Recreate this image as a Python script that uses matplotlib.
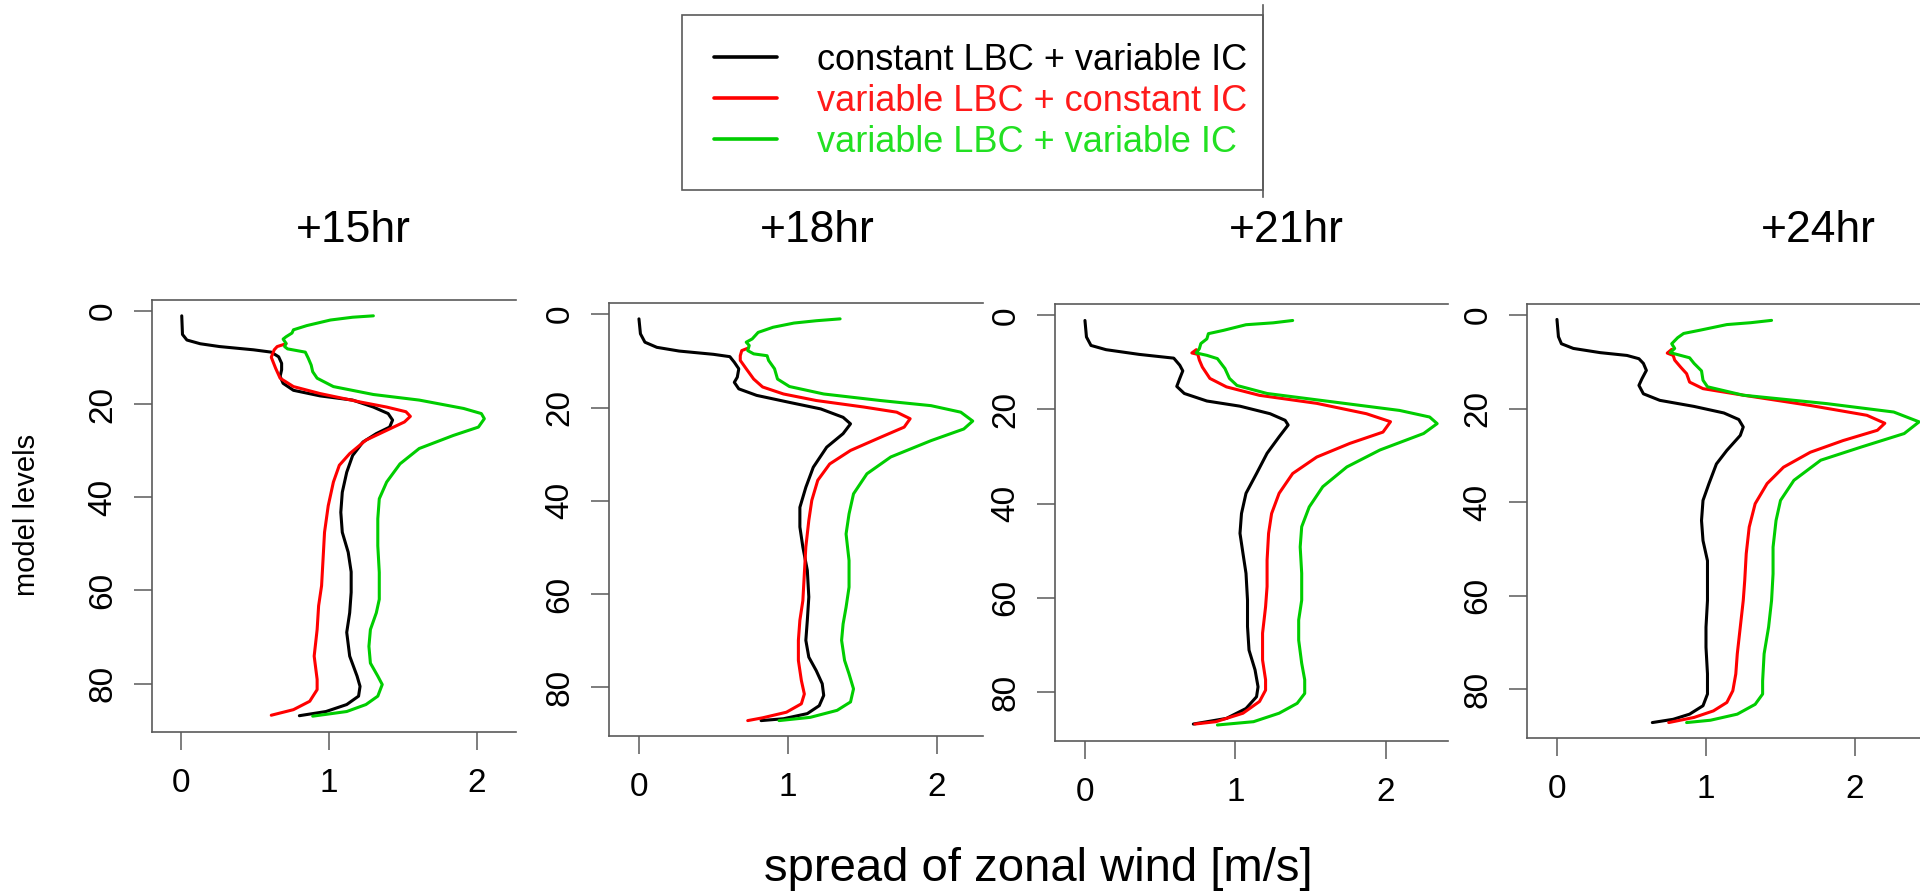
import matplotlib
matplotlib.use("Agg")
import matplotlib.pyplot as plt
from matplotlib.patches import Rectangle
from matplotlib.lines import Line2D

plt.rcParams['font.family'] = ['Liberation Sans', 'DejaVu Sans']

########### DATA ###########
TITLES = ["+15hr", "+18hr", "+21hr", "+24hr"]
LABELS = ["constant LBC + variable IC", "variable LBC + constant IC", "variable LBC + variable IC"]
COLORS = ["#000000", "#ff0000", "#00cd00"]
TEXT_COLORS = ["#000000", "#ff1a1a", "#22e022"]
X_TICKS = [0, 1, 2]
Y_TICKS = [0, 20, 40, 60, 80]

# +15hr
LEV_15_K = [1, 5, 6.2, 7, 7.6, 8.3, 8.8, 9.8, 11.2, 12.6, 14, 15.5, 17, 18.2, 19.1, 20.6, 22, 23.4, 24.9, 26.3, 28.1, 31, 34.6, 38.9, 43.2, 47.5, 51.8, 56, 60.4, 64.8, 69, 74.1, 78.4, 80.6, 82.7, 84.5, 86, 86.9]
X_15_K = [0.005, 0.01, 0.04, 0.13, 0.26, 0.49, 0.61, 0.66, 0.68, 0.68, 0.67, 0.69, 0.76, 0.94, 1.16, 1.30, 1.40, 1.43, 1.41, 1.32, 1.23, 1.16, 1.12, 1.09, 1.08, 1.09, 1.13, 1.15, 1.15, 1.14, 1.12, 1.14, 1.19, 1.21, 1.20, 1.12, 0.98, 0.80]
LEV_15_R = [7, 7.6, 8.3, 9.9, 12.3, 14.4, 16.2, 17.7, 19.5, 20.6, 21.6, 22.6, 23.8, 25.6, 27.7, 30.6, 33.1, 36.7, 41.8, 47.5, 53.3, 59, 63.3, 68.4, 74.1, 79.1, 81.3, 83.8, 85.6, 86.8]
X_15_R = [0.71, 0.65, 0.63, 0.61, 0.64, 0.67, 0.76, 0.94, 1.21, 1.39, 1.52, 1.55, 1.51, 1.39, 1.25, 1.14, 1.07, 1.03, 0.995, 0.97, 0.96, 0.95, 0.93, 0.92, 0.90, 0.92, 0.92, 0.87, 0.76, 0.61]
LEV_15_G = [1, 1.3, 1.9, 3.1, 4, 4.7, 5.5, 6, 6.9, 7.6, 8.1, 8.8, 10.1, 11.6, 13, 14.4, 16.2, 17.9, 19.1, 20.9, 22, 23.1, 24.9, 26.7, 29.5, 32.8, 36.7, 40.3, 44.6, 50.4, 56.1, 61.9, 64.8, 68.4, 72, 75.6, 78.4, 80.2, 82.7, 84.5, 86, 87]
X_15_G = [1.30, 1.16, 1.01, 0.85, 0.76, 0.75, 0.71, 0.69, 0.71, 0.70, 0.72, 0.84, 0.86, 0.88, 0.89, 0.92, 1.03, 1.30, 1.61, 1.91, 2.03, 2.05, 2.01, 1.84, 1.61, 1.48, 1.39, 1.34, 1.33, 1.33, 1.34, 1.34, 1.32, 1.28, 1.27, 1.28, 1.33, 1.36, 1.33, 1.25, 1.12, 0.89]

# +18hr
LEV_18_K = [1, 4.2, 6, 7.1, 7.9, 8.6, 9.1, 10.3, 11.7, 13.5, 14.6, 16, 17.4, 18.9, 20.3, 22.1, 23.5, 25.6, 28.5, 32.8, 37.1, 41.4, 45.6, 49.9, 54.9, 60.6, 65.6, 69.9, 73.5, 76.4, 79.2, 81.7, 83.9, 85.6, 86.7, 87.1]
X_18_K = [0.0, 0.01, 0.04, 0.12, 0.27, 0.50, 0.61, 0.64, 0.67, 0.66, 0.64, 0.67, 0.79, 1.01, 1.22, 1.37, 1.42, 1.37, 1.26, 1.17, 1.12, 1.08, 1.08, 1.10, 1.13, 1.14, 1.13, 1.12, 1.14, 1.19, 1.23, 1.24, 1.21, 1.13, 0.97, 0.82]
LEV_18_R = [7.3, 7.8, 8.9, 9.9, 11.7, 13.9, 15.6, 17.1, 18.5, 19.9, 21, 22.4, 24.2, 26.4, 29.2, 32.1, 35.6, 39.9, 44.2, 49.9, 55.6, 61.4, 65.6, 69.9, 74.2, 78.5, 81.4, 83.5, 85.3, 86.5, 87.1]
X_18_R = [0.73, 0.69, 0.68, 0.68, 0.72, 0.77, 0.83, 0.97, 1.19, 1.51, 1.73, 1.82, 1.78, 1.62, 1.42, 1.28, 1.20, 1.16, 1.14, 1.12, 1.11, 1.10, 1.08, 1.07, 1.07, 1.09, 1.11, 1.09, 0.99, 0.83, 0.73]
LEV_18_G = [1, 1.4, 1.9, 2.8, 3.9, 5.3, 6, 6.7, 7.8, 8.5, 8.9, 9.9, 11.7, 13.9, 15.5, 17.1, 18.5, 19.6, 21, 22.9, 24.6, 27.1, 30.6, 34.2, 38.5, 42.8, 47.1, 52.8, 58.5, 62.8, 66.4, 69.9, 74.2, 77.1, 80.3, 83.1, 84.9, 86.4, 87.1]
X_18_G = [1.35, 1.19, 1.04, 0.90, 0.80, 0.76, 0.72, 0.74, 0.73, 0.77, 0.86, 0.87, 0.91, 0.93, 1.01, 1.24, 1.62, 1.96, 2.16, 2.24, 2.18, 1.96, 1.69, 1.53, 1.44, 1.41, 1.39, 1.41, 1.41, 1.39, 1.37, 1.36, 1.38, 1.41, 1.44, 1.42, 1.33, 1.15, 0.94]

# +21hr
LEV_21_K = [1.1, 4.6, 6.4, 7.3, 8.3, 9.1, 10.6, 11.8, 13.4, 15.1, 16.6, 18.2, 19.3, 20.9, 22.3, 23.3, 25.8, 29.3, 33.6, 37.8, 42.1, 46.3, 50.6, 54.8, 60.5, 66.1, 71.1, 75.3, 78.9, 81, 83.5, 85.6, 86.8]
X_21_K = [0.0, 0.01, 0.04, 0.14, 0.36, 0.59, 0.63, 0.65, 0.63, 0.61, 0.66, 0.81, 1.03, 1.23, 1.33, 1.35, 1.29, 1.21, 1.14, 1.07, 1.04, 1.03, 1.05, 1.07, 1.08, 1.08, 1.09, 1.13, 1.15, 1.14, 1.07, 0.94, 0.72]
LEV_21_R = [7.3, 8, 8.3, 9.5, 11, 13.4, 15.2, 17, 18.7, 20.9, 22.6, 24.8, 27.2, 30.1, 33.6, 37.8, 42.1, 46.3, 52, 57.6, 61.9, 67.5, 73.2, 77.4, 79.6, 82, 84.5, 86.3, 86.8]
X_21_R = [0.74, 0.71, 0.75, 0.76, 0.78, 0.83, 0.94, 1.16, 1.54, 1.87, 2.03, 1.98, 1.76, 1.54, 1.38, 1.29, 1.24, 1.22, 1.21, 1.21, 1.20, 1.18, 1.18, 1.20, 1.20, 1.16, 1.05, 0.87, 0.73]
LEV_21_G = [1.1, 1.6, 2, 3.2, 3.9, 5, 6, 7.1, 8, 8.5, 9.2, 11.3, 13.4, 14.9, 16.6, 18.4, 20.2, 21.6, 23, 25.1, 28.6, 32.2, 36.4, 40.7, 44.9, 49.2, 54.8, 60.5, 64.7, 69, 73.9, 77.4, 80.3, 82.4, 84.5, 86.3, 87]
X_21_G = [1.38, 1.25, 1.07, 0.92, 0.82, 0.81, 0.77, 0.76, 0.74, 0.81, 0.88, 0.93, 0.96, 1.01, 1.21, 1.65, 2.09, 2.29, 2.34, 2.25, 1.96, 1.74, 1.58, 1.49, 1.44, 1.43, 1.44, 1.44, 1.42, 1.42, 1.44, 1.46, 1.46, 1.41, 1.29, 1.12, 0.88]

# +24hr
LEV_24_K = [0.9, 4.6, 6.1, 7.1, 8, 8.6, 9.3, 10.3, 11.8, 13.6, 15, 16.8, 18.2, 19.5, 20.9, 22.3, 23.9, 25.7, 28.9, 31.8, 36, 39.6, 43.9, 48.2, 52.5, 56.7, 61, 66.7, 71, 76.7, 81, 83.5, 85.3, 86.4, 87.1]
X_24_K = [0.0, 0.01, 0.03, 0.11, 0.29, 0.47, 0.55, 0.58, 0.60, 0.57, 0.55, 0.58, 0.69, 0.92, 1.12, 1.22, 1.25, 1.23, 1.14, 1.07, 1.02, 0.98, 0.97, 0.98, 1.01, 1.01, 1.01, 1.00, 1.00, 1.01, 1.01, 0.98, 0.89, 0.78, 0.64]
LEV_24_R = [7.3, 8.1, 8.6, 9.6, 11.1, 12.5, 14.3, 15.7, 17.1, 19.3, 21.4, 23.1, 24.6, 26.8, 29.3, 32.5, 36, 40.3, 45.3, 51, 56.7, 61, 66.7, 72.4, 76.7, 80.3, 82.8, 84.6, 86, 87.1]
X_24_R = [0.77, 0.74, 0.78, 0.79, 0.83, 0.87, 0.89, 0.98, 1.25, 1.70, 2.08, 2.20, 2.15, 1.92, 1.70, 1.52, 1.41, 1.33, 1.29, 1.27, 1.26, 1.25, 1.23, 1.21, 1.20, 1.18, 1.14, 1.05, 0.92, 0.75]
LEV_24_G = [1.1, 1.6, 2, 3.2, 3.9, 4.8, 6.1, 7.1, 8, 9.1, 10.3, 11.9, 13.9, 15.3, 17.1, 18.9, 20.7, 22.8, 25.3, 28.2, 31, 35.3, 39.6, 43.9, 49.6, 55.3, 61, 66.7, 72.4, 78.2, 81, 83.2, 85.3, 86.6, 87.1]
X_24_G = [1.44, 1.30, 1.14, 0.96, 0.85, 0.81, 0.77, 0.79, 0.76, 0.89, 0.92, 0.97, 0.98, 1.01, 1.25, 1.81, 2.26, 2.43, 2.33, 2.04, 1.77, 1.59, 1.50, 1.47, 1.45, 1.45, 1.44, 1.42, 1.39, 1.38, 1.38, 1.33, 1.21, 1.03, 0.87]
####################################################

W, H = 1920, 892
SPINE = "#5a5a5a"

# pixel boxes of the four (cropped) panels: left, top, right, bottom
BOXES = [(152, 300, 516, 732), (609, 303, 983, 736), (1055, 304, 1448, 741), (1527, 304, 1920, 738)]
XLIMS = [(-0.196, 2.264), (-0.201, 2.309), (-0.199, 2.412), (-0.201, 2.436)]
TITLE_X = [353, 817, 1286, 1818]

panels = [
    [(X_15_K, LEV_15_K), (X_15_R, LEV_15_R), (X_15_G, LEV_15_G)],
    [(X_18_K, LEV_18_K), (X_18_R, LEV_18_R), (X_18_G, LEV_18_G)],
    [(X_21_K, LEV_21_K), (X_21_R, LEV_21_R), (X_21_G, LEV_21_G)],
    [(X_24_K, LEV_24_K), (X_24_R, LEV_24_R), (X_24_G, LEV_24_G)],
]


def fig_box(l, t, r, b):
    return [l / W, 1 - b / H, (r - l) / W, (b - t) / H]


fig = plt.figure(figsize=(W / 100, H / 100), dpi=100)

handles = []
for i, series in enumerate(panels):
    ax = fig.add_axes(fig_box(*BOXES[i]))
    for j, (xv, lv) in enumerate(series):
        ln, = ax.plot(xv, lv, color=COLORS[j], lw=2.2, solid_joinstyle="round", solid_capstyle="round")
        if i == 0:
            handles.append(ln)
    ax.set_xlim(*XLIMS[i])
    ax.set_ylim(90.4, -2.4)
    ax.set_xticks(X_TICKS)
    ax.set_yticks(Y_TICKS)
    ax.spines["right"].set_visible(False)
    for s in ["left", "top", "bottom"]:
        ax.spines[s].set_color(SPINE)
        ax.spines[s].set_linewidth(1.2)
    ax.tick_params(axis="both", length=13, width=1.1, color=SPINE, labelsize=24)
    ax.tick_params(axis="x", pad=13)
    ax.tick_params(axis="y", pad=11, labelrotation=90)
    for lbl in ax.get_yticklabels():
        lbl.set_va("center")
    fig.text(TITLE_X[i] / W, 1 - 231 / H, TITLES[i], ha="center", va="center", fontsize=32)

# legend
leg = fig.legend(handles, LABELS, loc="upper left", bbox_to_anchor=(714 / W, 1 - 43 / H),
                 frameon=False, borderpad=0, borderaxespad=0, fontsize=26,
                 handlelength=1.75, handletextpad=1.1, labelspacing=0.16)
for txt, c in zip(leg.get_texts(), TEXT_COLORS):
    txt.set_color(c)
for ln in leg.get_lines():
    ln.set_linewidth(2.6)
fig.add_artist(Rectangle((682 / W, 1 - 190 / H), (1263 - 682) / W, 175 / H,
                         transform=fig.transFigure, fill=False, edgecolor=SPINE, lw=1.2))
fig.add_artist(Line2D([1263 / W, 1263 / W], [1 - 5 / H, 1 - 197 / H],
                      transform=fig.transFigure, color=SPINE, lw=1.2))

fig.text(1038 / W, 1 - 869 / H, "spread of zonal wind [m/s]", ha="center", va="center", fontsize=34)
fig.text(27 / W, 1 - 515 / H, "model levels", rotation=90, ha="center", va="center", fontsize=21)

fig.savefig("out.png", dpi=100, facecolor="white")
